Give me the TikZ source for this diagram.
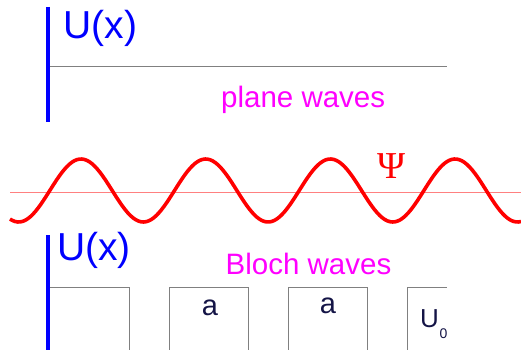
\documentclass[tikz,border=0pt]{standalone}
\usepackage{fontspec}
\setmainfont{Liberation Sans}
\newfontfamily\seriffont{Liberation Serif}
\definecolor{axisblue}{RGB}{0,0,255}
\definecolor{labmag}{RGB}{255,0,255}
\definecolor{wavered}{RGB}{255,0,0}
\definecolor{thinred}{RGB}{255,128,128}
\definecolor{boxgray}{RGB}{128,128,128}
\definecolor{navytext}{RGB}{20,20,70}
\begin{document}
\begin{tikzpicture}[x=1pt,y=-1pt,
  axis/.style={draw=axisblue,line width=3.6pt},
  potline/.style={draw=boxgray,line width=0.9pt},
  ulabel/.style={text=axisblue,font=\fontsize{39}{41}\selectfont,inner sep=0pt,anchor=base west},
  maglabel/.style={text=labmag,font=\fontsize{29.5}{31}\selectfont,inner sep=0pt,anchor=base west},
  smalllabel/.style={text=navytext,inner sep=0pt},
  wave/.style={draw=wavered,line width=3.6pt},
  baseline/.style={draw=thinred,line width=1pt}]
\useasboundingbox (0,0) rectangle (521,350);
% top panel
\draw[axis] (48,7) coordinate (ta1) -- (48,122) coordinate (ta2);
\draw[potline] (50,66) coordinate (tl1) -- (447,66) coordinate (tl2);
\node[ulabel] (tu) at (63.5,39) {U(x)};
\node[maglabel] (pw) at (221,107) {plane waves};
% wave
\draw[baseline] (10,192) coordinate (b1) -- (521,192) coordinate (b2);
\draw[wave] plot[domain=10:521,samples=200,smooth] (\x,{190.5-31.5*cos(2.887*(\x-81))});
\node[text=wavered,font=\seriffont\fontsize{38}{40}\selectfont,inner sep=0pt,anchor=base] (psi) at (392,178) {Ψ};
% bottom panel
\draw[axis] (48,235) coordinate (ba1) -- (48,350) coordinate (ba2);
\node[ulabel] (bu) at (57,260) {U(x)};
\node[maglabel] (bw) at (225.5,274) {Bloch waves};
\draw[potline] (50,287) -- (129,287) -- (129,350);
\draw[potline] (169,350) -- (169,287) -- (248,287) -- (248,350);
\draw[potline] (288,350) -- (288,287) -- (367,287) -- (367,350);
\draw[potline] (407,350) -- (407,287) -- (447,287);
\node[smalllabel,font=\fontsize{29}{30}\selectfont,anchor=base] (a1) at (210,315) {a};
\node[smalllabel,font=\fontsize{29}{30}\selectfont,anchor=base] (a2) at (328,313) {a};
\node[smalllabel,font=\fontsize{26}{27}\selectfont,anchor=base west] (u0) at (420,327) {U};
\node[smalllabel,font=\fontsize{14}{15}\selectfont,anchor=base west] (u0sub) at (439.5,338) {0};
\end{tikzpicture}
\end{document}
